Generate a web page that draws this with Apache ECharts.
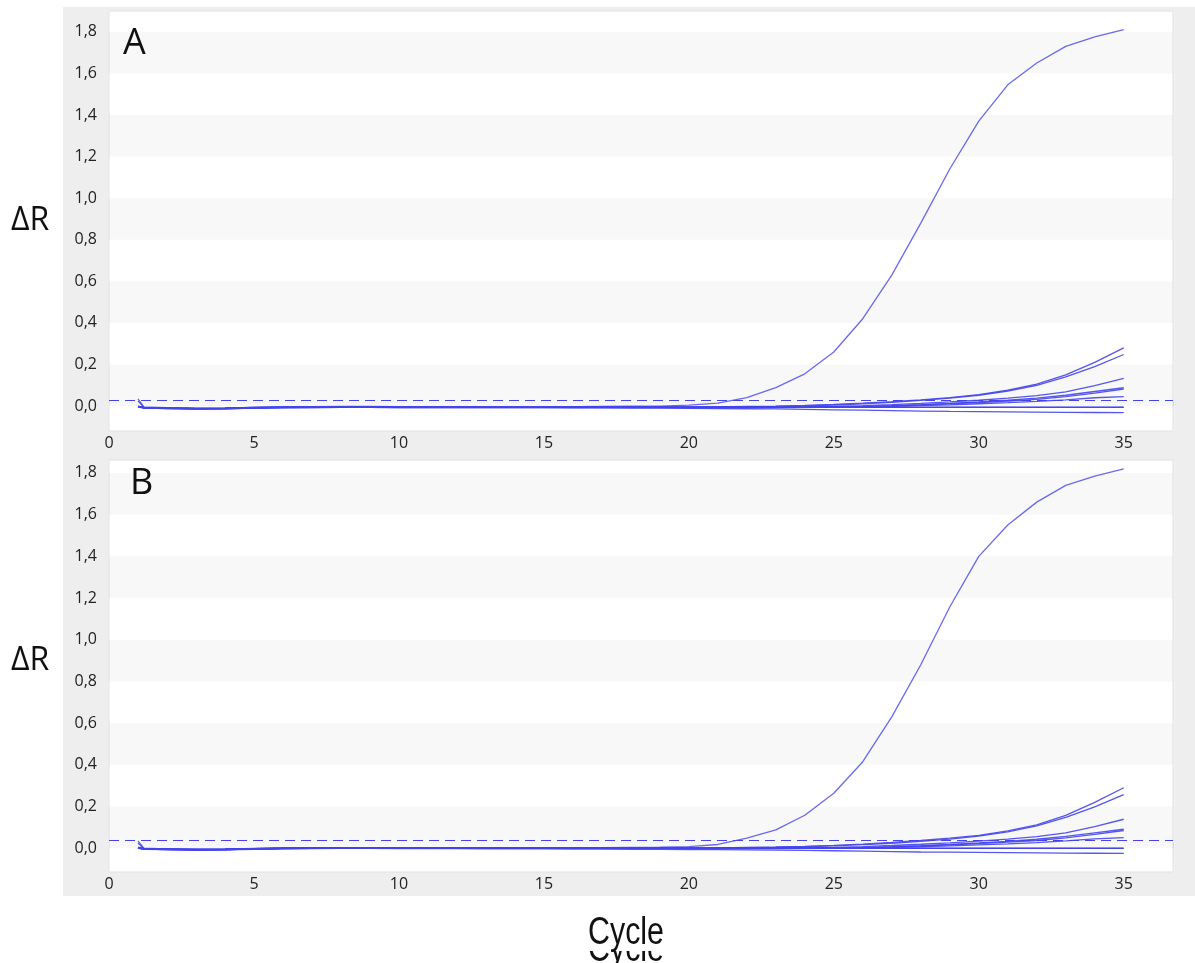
<!DOCTYPE html>
<html>
<head>
<meta charset="utf-8">
<script src="https://cdn.jsdelivr.net/npm/echarts@6/dist/echarts.min.js"></script>
<style>
  html, body { margin: 0; padding: 0; background: #fff; }
  #chart { width: 1195px; height: 963px; }
</style>
</head>
<body>
<div id="chart"></div>
<script>
  // cycle positions (1.2 carries the short start-up spike)
  const cycles = [1, 1.2, 2, 3, 4, 5, 6, 7, 8, 9, 10, 11, 12, 13, 14, 15, 16, 17, 18,
    19, 20, 21, 22, 23, 24, 25, 26, 27, 28, 29, 30, 31, 32, 33, 34, 35]
  const xLabels = [0, 5, 10, 15, 20, 25, 30, 35]
  const yLabels = [0, 0.2, 0.4, 0.6, 0.8, 1.0, 1.2, 1.4, 1.6, 1.8]
  const bands = [[0, 0.2], [0.4, 0.6], [0.8, 1.0], [1.2, 1.4], [1.6, 1.8]]
  const thresholdA = 0.032
  const thresholdB = 0.042

  // panel A
  const aMain = [0.035, -0.004, -0.008, -0.010, -0.009, -0.006, -0.004, -0.003, -0.002, -0.002, -0.003, -0.003, -0.003, -0.003, -0.003, -0.003, -0.003, -0.002, -0.001, 0.000, 0.004, 0.014, 0.040, 0.089, 0.155, 0.260, 0.420, 0.630, 0.880, 1.140, 1.370, 1.545, 1.650, 1.730, 1.775, 1.810]
  const aRise1 = [0.025, -0.006, -0.010, -0.012, -0.011, -0.008, -0.006, -0.005, -0.004, -0.004, -0.005, -0.005, -0.005, -0.005, -0.005, -0.005, -0.005, -0.005, -0.005, -0.005, -0.005, -0.004, -0.002, 0.000, 0.003, 0.008, 0.014, 0.021, 0.030, 0.041, 0.055, 0.076, 0.105, 0.150, 0.210, 0.280]
  const aRise2 = [-0.003, -0.008, -0.011, -0.013, -0.012, -0.009, -0.007, -0.006, -0.005, -0.005, -0.006, -0.006, -0.006, -0.006, -0.006, -0.006, -0.006, -0.006, -0.006, -0.006, -0.006, -0.005, -0.004, -0.002, 0.001, 0.005, 0.011, 0.018, 0.027, 0.038, 0.052, 0.072, 0.100, 0.140, 0.190, 0.248]
  const aRise3 = [-0.004, -0.009, -0.012, -0.014, -0.013, -0.010, -0.008, -0.007, -0.006, -0.006, -0.007, -0.007, -0.007, -0.007, -0.007, -0.007, -0.007, -0.007, -0.007, -0.007, -0.007, -0.007, -0.006, -0.005, -0.004, -0.002, 0.002, 0.007, 0.013, 0.020, 0.028, 0.038, 0.050, 0.068, 0.098, 0.133]
  const aRise4 = [-0.002, -0.007, -0.009, -0.011, -0.010, -0.007, -0.005, -0.004, -0.004, -0.004, -0.005, -0.005, -0.005, -0.005, -0.005, -0.005, -0.005, -0.005, -0.005, -0.005, -0.005, -0.005, -0.005, -0.004, -0.004, -0.003, -0.002, 0.002, 0.007, 0.013, 0.020, 0.028, 0.038, 0.052, 0.070, 0.088]
  const aRise5 = [-0.003, -0.008, -0.010, -0.012, -0.011, -0.008, -0.006, -0.005, -0.005, -0.005, -0.006, -0.006, -0.006, -0.006, -0.006, -0.006, -0.006, -0.006, -0.006, -0.006, -0.006, -0.006, -0.006, -0.006, -0.005, -0.004, -0.003, 0.000, 0.005, 0.011, 0.017, 0.024, 0.032, 0.045, 0.062, 0.082]
  const aRise6 = [-0.004, -0.009, -0.011, -0.013, -0.012, -0.009, -0.007, -0.006, -0.005, -0.005, -0.006, -0.006, -0.006, -0.006, -0.006, -0.006, -0.006, -0.006, -0.006, -0.006, -0.007, -0.007, -0.007, -0.007, -0.006, -0.005, -0.004, -0.001, 0.002, 0.006, 0.011, 0.016, 0.022, 0.030, 0.040, 0.045]
  const aFlat1 = [-0.003, -0.008, -0.010, -0.012, -0.011, -0.008, -0.006, -0.005, -0.004, -0.004, -0.005, -0.005, -0.005, -0.005, -0.005, -0.005, -0.005, -0.005, -0.005, -0.005, -0.006, -0.006, -0.006, -0.006, -0.006, -0.006, -0.006, -0.006, -0.006, -0.006, -0.006, -0.006, -0.006, -0.006, -0.006, -0.006]
  const aFlat2 = [0.000, -0.007, -0.009, -0.011, -0.010, -0.007, -0.005, -0.004, -0.003, -0.003, -0.004, -0.004, -0.004, -0.004, -0.004, -0.004, -0.004, -0.004, -0.004, -0.004, -0.005, -0.005, -0.005, -0.005, -0.005, -0.005, -0.005, -0.005, -0.005, -0.005, -0.005, -0.005, -0.005, -0.005, -0.005, -0.005]
  const aLow = [-0.004, -0.010, -0.012, -0.014, -0.013, -0.010, -0.008, -0.007, -0.006, -0.006, -0.007, -0.007, -0.007, -0.008, -0.008, -0.008, -0.009, -0.009, -0.010, -0.010, -0.011, -0.012, -0.013, -0.014, -0.016, -0.018, -0.020, -0.022, -0.024, -0.026, -0.027, -0.028, -0.029, -0.030, -0.031, -0.032]

  // panel B
  const bMain = [0.035, 0.000, -0.003, -0.005, -0.004, -0.001, 0.001, 0.002, 0.003, 0.003, 0.002, 0.002, 0.002, 0.002, 0.002, 0.002, 0.002, 0.003, 0.004, 0.005, 0.008, 0.018, 0.048, 0.088, 0.158, 0.264, 0.415, 0.630, 0.880, 1.157, 1.400, 1.550, 1.660, 1.740, 1.785, 1.820]
  const bRise1 = [0.025, -0.001, -0.004, -0.006, -0.005, -0.002, 0.000, 0.001, 0.002, 0.002, 0.001, 0.001, 0.001, 0.001, 0.001, 0.001, 0.001, 0.001, 0.001, 0.001, 0.001, 0.002, 0.004, 0.006, 0.009, 0.014, 0.020, 0.028, 0.037, 0.048, 0.062, 0.083, 0.112, 0.158, 0.220, 0.290]
  const bRise2 = [0.002, -0.003, -0.005, -0.007, -0.006, -0.003, -0.001, 0.000, 0.001, 0.001, 0.000, 0.000, 0.000, 0.000, 0.000, 0.000, 0.000, 0.000, 0.000, 0.000, 0.000, 0.001, 0.002, 0.004, 0.007, 0.011, 0.017, 0.024, 0.033, 0.044, 0.058, 0.078, 0.107, 0.148, 0.198, 0.257]
  const bRise3 = [0.001, -0.004, -0.006, -0.008, -0.007, -0.004, -0.002, -0.001, 0.000, 0.000, -0.001, -0.001, -0.001, -0.001, -0.001, -0.001, -0.001, -0.001, -0.001, -0.001, -0.001, -0.001, 0.000, 0.001, 0.002, 0.004, 0.008, 0.013, 0.019, 0.026, 0.034, 0.044, 0.056, 0.074, 0.104, 0.139]
  const bRise4 = [0.003, -0.002, -0.004, -0.006, -0.005, -0.002, 0.000, 0.001, 0.001, 0.001, 0.000, 0.000, 0.000, 0.000, 0.000, 0.000, 0.000, 0.000, 0.000, 0.000, 0.000, 0.000, 0.000, 0.001, 0.001, 0.002, 0.003, 0.007, 0.012, 0.018, 0.025, 0.033, 0.043, 0.057, 0.074, 0.091]
  const bRise5 = [0.002, -0.003, -0.005, -0.007, -0.006, -0.003, -0.001, 0.000, 0.000, 0.000, -0.001, -0.001, -0.001, -0.001, -0.001, -0.001, -0.001, -0.001, -0.001, -0.001, -0.001, -0.001, -0.001, -0.001, 0.000, 0.001, 0.002, 0.005, 0.010, 0.016, 0.022, 0.029, 0.037, 0.050, 0.066, 0.085]
  const bRise6 = [0.001, -0.004, -0.006, -0.008, -0.007, -0.004, -0.002, -0.001, 0.000, 0.000, -0.001, -0.001, -0.001, -0.001, -0.001, -0.001, -0.001, -0.001, -0.001, -0.001, -0.002, -0.002, -0.002, -0.002, -0.001, 0.000, 0.001, 0.004, 0.007, 0.011, 0.016, 0.021, 0.027, 0.035, 0.045, 0.051]
  const bFlat1 = [0.002, -0.003, -0.005, -0.007, -0.006, -0.003, -0.001, 0.000, 0.001, 0.001, 0.000, 0.000, 0.000, 0.000, 0.000, 0.000, 0.000, 0.000, 0.000, 0.000, -0.001, -0.001, -0.001, -0.001, -0.001, -0.001, -0.001, -0.001, -0.001, -0.001, -0.001, -0.001, -0.001, -0.001, -0.001, -0.001]
  const bFlat2 = [0.005, -0.002, -0.004, -0.006, -0.005, -0.002, 0.000, 0.001, 0.002, 0.002, 0.001, 0.001, 0.001, 0.001, 0.001, 0.001, 0.001, 0.001, 0.001, 0.001, 0.000, 0.000, 0.000, 0.000, 0.000, 0.000, 0.000, 0.000, 0.000, 0.000, 0.000, 0.000, 0.000, 0.000, 0.000, 0.000]
  const bLow = [0.001, -0.005, -0.007, -0.009, -0.008, -0.005, -0.003, -0.002, -0.001, -0.001, -0.002, -0.002, -0.002, -0.003, -0.003, -0.003, -0.004, -0.004, -0.005, -0.005, -0.006, -0.007, -0.008, -0.009, -0.010, -0.012, -0.014, -0.016, -0.018, -0.019, -0.020, -0.021, -0.022, -0.023, -0.024, -0.025]

  const panelA = [aMain, aRise1, aRise2, aRise3, aRise4, aRise5, aRise6, aFlat1, aFlat2, aLow]
  const panelB = [bMain, bRise1, bRise2, bRise3, bRise4, bRise5, bRise6, bFlat1, bFlat2, bLow]

  const lineColor = '#4444ee'
  const labelFont = '"Open Sans", "Noto Sans", sans-serif'
  const captionFont = '"Liberation Sans", Arial, sans-serif'
  const fmt = (v) => v.toFixed(1).replace('.', ',')

  // minor y ticks every 0.05
  const yTicks = []
  for (let i = -2; i <= 37; i++) yTicks.push(+(i * 0.05).toFixed(2))

  const makeSeries = (list, gridIndex, threshold) =>
    list.map((values, i) => {
      const s = {
        type: 'line',
        xAxisIndex: gridIndex,
        yAxisIndex: gridIndex,
        data: cycles.map((c, k) => [c, values[k]]),
        showSymbol: false,
        silent: true,
        lineStyle: { color: lineColor, width: 1.3, opacity: i === 0 ? 0.8 : 0.9 },
        z: 3
      }
      if (i === 0) {
        s.markArea = {
          silent: true,
          itemStyle: { color: 'rgba(0,0,0,0.028)' },
          data: bands.map((b) => [{ yAxis: b[0] }, { yAxis: b[1] }])
        }
        s.markLine = {
          silent: true,
          symbol: 'none',
          label: { show: false },
          lineStyle: { color: lineColor, type: [10, 6], width: 1.2 },
          data: [{ yAxis: threshold }]
        }
      }
      return s
    })

  const makeX = (gridIndex) => ({
    type: 'value',
    gridIndex,
    min: 0,
    max: 36.7,
    interval: 5,
    axisLine: { show: false },
    axisTick: {
      show: true,
      inside: true,
      length: 5,
      lineStyle: { color: '#d0d0d0' }
    },
    minorTick: {
      show: true,
      splitNumber: 5,
      length: 5,
      lineStyle: { color: '#d0d0d0' }
    },
    splitLine: { show: true, lineStyle: { color: '#f1f1f1', width: 3 } },
    axisLabel: {
      customValues: xLabels,
      margin: 4,
      color: '#222',
      fontSize: 16,
      fontFamily: labelFont
    }
  })

  const makeY = (gridIndex, min, max) => ({
    type: 'value',
    gridIndex,
    min,
    max,
    axisLine: { show: false },
    axisTick: {
      show: true,
      inside: true,
      length: 8,
      customValues: yTicks,
      lineStyle: { color: '#d6d6d6' }
    },
    splitLine: { show: false },
    axisLabel: {
      customValues: yLabels,
      formatter: fmt,
      margin: 12,
      color: '#222',
      fontSize: 16,
      fontFamily: labelFont
    }
  })

  const chart = echarts.init(document.getElementById('chart'))
  chart.setOption({
    animation: false,
    backgroundColor: '#fff',
    grid: [
      { left: 109, top: 11, width: 1064, height: 420, show: true, backgroundColor: '#fff', borderColor: '#e2e2e2', z: 1 },
      { left: 109, top: 460, width: 1064, height: 412, show: true, backgroundColor: '#fff', borderColor: '#e2e2e2', z: 1 }
    ],
    xAxis: [makeX(0), makeX(1)],
    yAxis: [makeY(0, -0.12, 1.9), makeY(1, -0.114, 1.862)],
    series: [...makeSeries(panelA, 0, thresholdA), ...makeSeries(panelB, 1, thresholdB)],
    graphic: [
      { type: 'rect', z: -10, silent: true, shape: { x: 63, y: 7, width: 1132, height: 889 }, style: { fill: '#eeeeee' } },
      { type: 'text', z: 10, left: 123, top: 26, style: { text: 'A', fontSize: 36, fontFamily: labelFont, fill: '#111' } },
      { type: 'text', z: 10, left: 130, top: 466, style: { text: 'B', fontSize: 36, fontFamily: labelFont, fill: '#111' } },
      { type: 'text', z: 10, left: 11, top: 205, style: { text: 'ΔR', fontSize: 32, fontFamily: labelFont, fill: '#111' } },
      { type: 'text', z: 10, left: 11, top: 645, style: { text: 'ΔR', fontSize: 32, fontFamily: labelFont, fill: '#111' } },
      // clipped duplicate caption under the main one
      { type: 'text', z: 10, x: 626, y: 932, scaleX: 0.8, originX: 0, style: { text: 'Cycle', fontSize: 38, fontFamily: captionFont, fill: '#111', align: 'center', verticalAlign: 'top' } },
      { type: 'rect', z: 11, silent: true, shape: { x: 540, y: 900, width: 180, height: 51 }, style: { fill: '#fff' } },
      { type: 'text', z: 12, x: 626, y: 915, scaleX: 0.8, originX: 0, style: { text: 'Cycle', fontSize: 38, fontFamily: captionFont, fill: '#111', align: 'center', verticalAlign: 'top' } }
    ]
  })
</script>
</body>
</html>
